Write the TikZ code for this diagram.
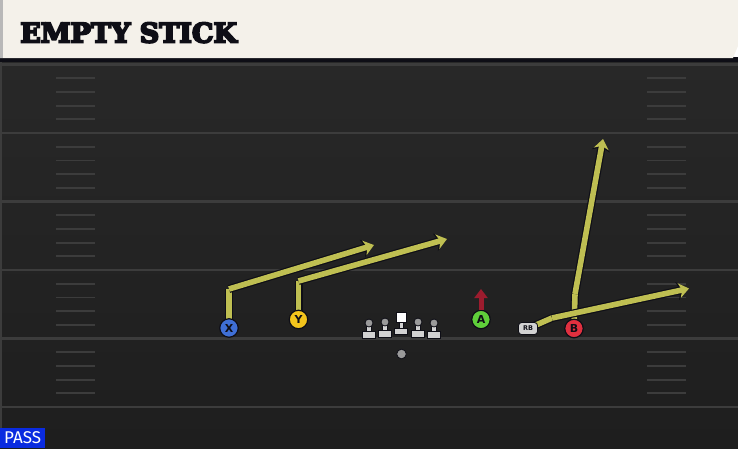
\documentclass[tikz,border=0pt]{standalone}
\usepackage{fontspec}
\usetikzlibrary{arrows.meta}
\newfontfamily\titlefont{DejaVu Serif}[BoldFeatures={FakeBold=7}]
\newfontfamily\labelfont{DejaVu Sans}
\newfontfamily\tagfont{Fira Sans}
\definecolor{cream}{HTML}{F4F1EA}
\definecolor{field}{HTML}{282828}
\definecolor{fielddark}{HTML}{1E1E1E}
\definecolor{fieldline}{HTML}{3C3C3C}
\definecolor{edge}{HTML}{0E0E16}
\definecolor{routecol}{HTML}{BFBF52}
\definecolor{xblue}{HTML}{3F6FD6}
\definecolor{yyellow}{HTML}{F3C41C}
\definecolor{agreen}{HTML}{5FCF3A}
\definecolor{bred}{HTML}{E0303F}
\definecolor{arrowred}{HTML}{9C1C2E}
\definecolor{passblue}{HTML}{0A2BE0}
\definecolor{linegray}{HTML}{D2D2D2}
\definecolor{headgray}{HTML}{9A9A9A}
\tikzset{
  player/.style={circle,draw=edge,line width=1.2pt,minimum size=18.5pt,inner sep=0pt,
    text=edge,font=\labelfont\bfseries\fontsize{11}{11}\selectfont},
  route/.style={line width=5.6pt,draw=routecol,line join=round,
    -{Stealth[length=10pt,width=15pt,inset=3pt]},
    preaction={draw=edge,line width=8pt,line join=round,-{Stealth[length=12pt,width=18pt,inset=3.5pt]}}},
  routeleg/.style={line width=5.6pt,draw=routecol,
    preaction={draw=edge,line width=8pt}},
  lineman/.style={fill=linegray,draw=edge,line width=0.9pt}
}
\begin{document}
\begin{tikzpicture}[x=1pt,y=-1pt]
        \useasboundingbox (0,0) rectangle (738,448);
        % field
        \shade[top color=field,bottom color=fielddark] (0,60) rectangle (738,448);
        \draw[fieldline,line width=1.5pt] (1,60) -- (1,448);
        \foreach \k in {0,...,5}
            \draw[fieldline,line width=2.2pt] (0,64.5+68.5*\k) -- (738,64.5+68.5*\k);
        \foreach \k in {0,...,4}
            \foreach \j in {1,...,4} {
                \draw[fieldline,line width=1.8pt] (56,64.5+68.5*\k+13.7*\j) -- (95,64.5+68.5*\k+13.7*\j);
                \draw[fieldline,line width=1.8pt] (647,64.5+68.5*\k+13.7*\j) -- (686,64.5+68.5*\k+13.7*\j);
            }
        % header
        \fill[edge] (0,57) rectangle (738,62);
        \fill[cream] (0,0) -- (738,0) -- (738,46) -- (733,58) -- (0,58) -- cycle;
        \fill[headgray!70!white] (0,0) rectangle (3,58);
        \node[anchor=base west,inner sep=0pt,text=edge,font=\titlefont\bfseries\fontsize{27}{27}\selectfont] (title) at (20,42.5) {EMPTY STICK};
        \node[anchor=south west,fill=passblue,minimum width=45pt,minimum height=20pt,inner sep=0pt,text=white,font=\tagfont\fontsize{17}{17}\selectfont] (tag) at (0,448) {PASS};
        % line
        \foreach \x/\d in {369/0,385/-1,418/-1,434/0} {
            \draw[lineman] (\x-2.5,324+\d) rectangle (\x+2.5,332+\d);
            \draw[lineman] (\x-6.5,331.5+\d) rectangle (\x+6.5,338+\d);
            \fill[headgray,draw=edge,line width=0.8pt] (\x,323+\d) circle (4);
        }
        \draw[lineman] (399,321) rectangle (403.5,329);
        \draw[lineman] (394.5,328.5) rectangle (407.5,334.5);
        \draw[fill=white,draw=edge,line width=0.8pt] (396,312) rectangle (406,322.5);
        \fill[headgray,draw=edge,line width=0.8pt] (401.5,354) circle (4.8);
        % skill players
        \coordinate (Xbreak) at (229,289);
        \coordinate (Xend) at (374,245);
        \coordinate (Ybreak) at (298.5,281);
        \coordinate (Yend) at (447,239);
        \coordinate (Bbreak) at (575,294);
        \coordinate (Bend) at (603,139);
        \coordinate (RBbreak) at (552,318);
        \coordinate (RBend) at (689,288.5);
        \coordinate (Aend) at (481,289);
        \coordinate (Xpos) at (229,328);
        \coordinate (Ypos) at (298.5,319.5);
        \coordinate (Bpos) at (574,328.5);
        \coordinate (RBpos) at (528,328.5);
        % routes
        \draw[routeleg] (Xpos) -- (Xbreak);
        \draw[routeleg] (Ypos) -- (Ybreak);
        \draw[routeleg] (Bpos) -- (Bbreak);
        \draw[routeleg] (RBpos) -- (RBbreak);
        \draw[route] (Xbreak) -- (Xend);
        \draw[route] (Ybreak) -- (Yend);
        \draw[route] (Bbreak) -- (Bend);
        \draw[route] (RBbreak) -- (RBend);
        \node[player,fill=xblue] (X) at (Xpos) {X};
        \node[player,fill=yyellow] (Y) at (Ypos) {Y};
        \node[player,fill=agreen] (A) at (481,319.5) {A};
        \node[player,fill=bred] (B) at (Bpos) {B};
        \node[rounded corners=3pt,fill=linegray,draw=edge,line width=0.9pt,minimum width=19pt,minimum height=12pt,inner sep=0pt,text=edge,font=\labelfont\bfseries\fontsize{6.5}{6.5}\selectfont] (RB) at (RBpos) {RB};
        \draw[arrowred,line width=5pt,-{Triangle[length=9pt,width=13pt]}] (A) -- (Aend);
\end{tikzpicture}
\end{document}
